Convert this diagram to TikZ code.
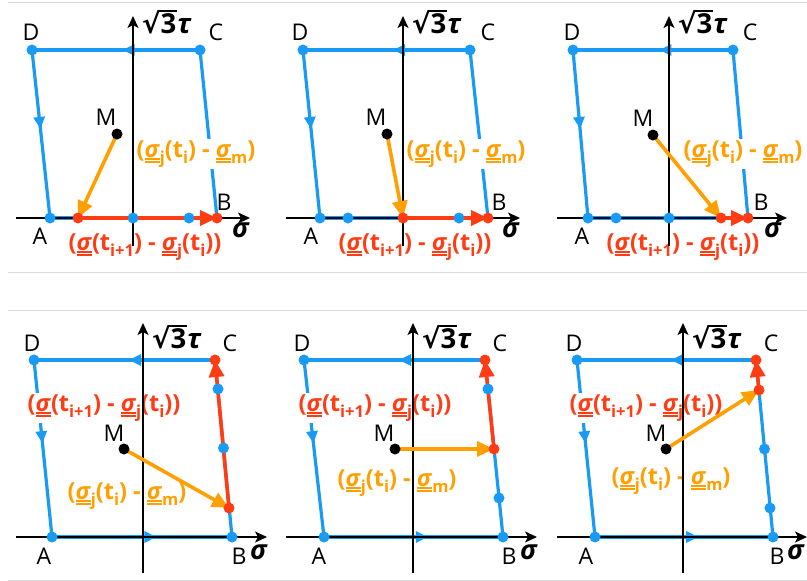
\documentclass[tikz,border=0pt]{standalone}
\usepackage{fontspec}
\setmainfont{Open Sans}
\newfontfamily\djv{DejaVu Sans}
\usetikzlibrary{arrows.meta,decorations.markings}
\definecolor{cblue}{RGB}{25,155,245}
\definecolor{corange}{RGB}{255,160,0}
\definecolor{cred}{RGB}{255,60,20}
\definecolor{cgray}{RGB}{218,218,218}
\newcommand\dulsig{\leavevmode\vtop{\hbox{\textit{σ}}\kern0.9pt\hrule height 1.5pt\kern1.5pt\hrule height 1.5pt}}
\newcommand\lsub[1]{\raisebox{-0.28em}{\fontsize{16.5}{17}\selectfont#1}}
\newcommand\myR{(\dulsig(t\lsub{i+1}) - \dulsig\lsub{j}(t\lsub{i}))}
\newcommand\myO{(\dulsig\lsub{j}(t\lsub{i}) - \dulsig\lsub{m})}
\newcommand\sqtau{\textbf{\setbox0\hbox{{\djv\bfseries √}}\setbox2\hbox{\kern1pt 3\kern1pt}\copy0\kern-0.8pt\rlap{\rule[\dimexpr\ht0-2pt\relax]{\wd2}{2pt}}\box2\textit{τ}}}
\newcommand\sigl{\textbf{\textit{σ}}}
\begin{document}
\begin{tikzpicture}[x=1pt,y=-1pt,
  edge/.style={draw=cblue, line width=3.2pt},
  midarrow/.style={postaction={decorate}, decoration={markings, mark=at position #1 with {\arrow{Triangle[length=12pt,width=11pt]}}}},
  axl/.style={draw=black, line width=1.3pt, -{Stealth[length=12pt,width=11pt,inset=3pt]}},
  dotb/.style={circle, fill=cblue, inner sep=0pt, minimum size=11pt},
  dotr/.style={dotb, fill=cred},
  dotk/.style={dotb, fill=black},
  oarr/.style={draw=corange, line width=3.6pt, -{Triangle[length=17pt,width=15pt]}},
  rarr/.style={draw=cred, line width=3.6pt, -{Triangle[length=17pt,width=15pt]}},
  lbl/.style={inner sep=0pt, font=\fontsize{23}{26}\selectfont},
  slbl/.style={inner sep=0pt, font=\fontsize{27}{30}\selectfont},
  tlbl/.style={inner sep=0pt, anchor=base west, font=\fontsize{27.5}{30}\selectfont},
  olbl/.style={inner sep=1pt, fill=white, text=corange, font=\fontsize{23.5}{26}\selectfont\bfseries},
  rlbl/.style={olbl, text=cred},
  sep/.style={draw=cgray, line width=1pt}]
\useasboundingbox (0,0) rectangle (807,581);
\fill[white] (0,0) rectangle (807,581);
% separators
\coordinate (s1a) at (8,2.5); \coordinate (s1b) at (807,2.5);
\coordinate (s2a) at (8,272.5); \coordinate (s2b) at (807,272.5);
\coordinate (s3a) at (8,310.5); \coordinate (s3b) at (807,310.5);
\coordinate (s4a) at (8,580); \coordinate (s4b) at (807,580);
\draw[sep] (s1a) -- (s1b); \draw[sep] (s2a) -- (s2b);
\draw[sep] (s3a) -- (s3b); \draw[sep] (s4a) -- (s4b);

% ---------------- Panel 1
\begin{scope}[shift={(133,218)}]
\coordinate (p1A) at (-83,0); \coordinate (p1B) at (84,0);
\coordinate (p1C) at (67,-168); \coordinate (p1D) at (-101,-168);
\coordinate (p1M) at (-16,-84); \coordinate (p1P) at (-55,0);
\coordinate (p1Q) at (0,0); \coordinate (p1R) at (56,0);
\coordinate (p1xs) at (-117,0); \coordinate (p1xe) at (117,0);
\coordinate (p1ys) at (0,28); \coordinate (p1ye) at (0,-202);
\draw[edge, midarrow=0.47] (p1D) -- (p1A);
\draw[edge] (p1A) -- (p1B);
\draw[edge, midarrow=0.47] (p1B) -- (p1C);
\draw[edge, midarrow=0.46] (p1C) -- (p1D);
\node[olbl] (p1ot) at (63,-64) {\myO};
\node[rlbl] (p1rt) at (12,29) {\myR};
\draw[axl] (p1xs) -- (p1xe);
\draw[axl] (p1ys) -- (p1ye);
\draw[oarr] (p1M) -- (p1P);
\draw[rarr] (p1P) -- (p1B);
\node[dotb] (p1Ad) at (p1A) {}; \node[dotb] (p1Cd) at (p1C) {};
\node[dotb] (p1Dd) at (p1D) {}; \node[dotb] (p1Qd) at (p1Q) {};
\node[dotb] (p1Rd) at (p1R) {};
\node[dotr] (p1Pd) at (p1P) {}; \node[dotr] (p1Bd) at (p1B) {};
\node[dotk] (p1Md) at (p1M) {};
\node[lbl] (p1Dl) at (-102,-186) {D}; \node[lbl] (p1Cl) at (83,-186) {C};
\node[lbl] (p1Al) at (-93,18) {A}; \node[lbl] (p1Bl) at (91,-16) {B};
\node[lbl] (p1Ml) at (-27,-101) {M};
\node[slbl] (p1sl) at (108,12) {\sigl};
\node[tlbl] (p1tl) at (9,-185) {\sqtau};
\end{scope}

% ---------------- Panel 2
\begin{scope}[shift={(403,218)}]
\coordinate (p2A) at (-83,0); \coordinate (p2B) at (85,0);
\coordinate (p2C) at (67,-168); \coordinate (p2D) at (-100,-168);
\coordinate (p2M) at (-16,-84); \coordinate (p2P) at (0,0);
\coordinate (p2Q) at (-55,0); \coordinate (p2R) at (56,0);
\coordinate (p2xs) at (-117,0); \coordinate (p2xe) at (117,0);
\coordinate (p2ys) at (0,28); \coordinate (p2ye) at (0,-202);
\draw[edge, midarrow=0.47] (p2D) -- (p2A);
\draw[edge] (p2A) -- (p2B);
\draw[edge, midarrow=0.47] (p2B) -- (p2C);
\draw[edge, midarrow=0.46] (p2C) -- (p2D);
\node[olbl] (p2ot) at (63,-64) {\myO};
\node[rlbl] (p2rt) at (12,29) {\myR};
\draw[axl] (p2xs) -- (p2xe);
\draw[axl] (p2ys) -- (p2ye);
\draw[oarr] (p2M) -- (p2P);
\draw[rarr] (p2P) -- (p2B);
\node[dotb] (p2Ad) at (p2A) {}; \node[dotb] (p2Cd) at (p2C) {};
\node[dotb] (p2Dd) at (p2D) {}; \node[dotb] (p2Qd) at (p2Q) {};
\node[dotb] (p2Rd) at (p2R) {};
\node[dotr] (p2Pd) at (p2P) {}; \node[dotr] (p2Bd) at (p2B) {};
\node[dotk] (p2Md) at (p2M) {};
\node[lbl] (p2Dl) at (-103,-186) {D}; \node[lbl] (p2Cl) at (85,-186) {C};
\node[lbl] (p2Al) at (-92,18) {A}; \node[lbl] (p2Bl) at (96,-16) {B};
\node[lbl] (p2Ml) at (-27,-101) {M};
\node[slbl] (p2sl) at (108,12) {\sigl};
\node[tlbl] (p2tl) at (9,-185) {\sqtau};
\end{scope}

% ---------------- Panel 3
\begin{scope}[shift={(669,218)}]
\coordinate (p3A) at (-81,0); \coordinate (p3B) at (79,0);
\coordinate (p3C) at (64,-168); \coordinate (p3D) at (-96,-168);
\coordinate (p3M) at (-16,-83); \coordinate (p3P) at (52,0);
\coordinate (p3Q) at (-53,0); \coordinate (p3R) at (0,0);
\coordinate (p3xs) at (-112,0); \coordinate (p3xe) at (118,0);
\coordinate (p3ys) at (0,28); \coordinate (p3ye) at (0,-202);
\draw[edge, midarrow=0.47] (p3D) -- (p3A);
\draw[edge] (p3A) -- (p3B);
\draw[edge, midarrow=0.47] (p3B) -- (p3C);
\draw[edge, midarrow=0.46] (p3C) -- (p3D);
\node[olbl] (p3ot) at (74,-64) {\myO};
\node[rlbl] (p3rt) at (14,29) {\myR};
\draw[axl] (p3xs) -- (p3xe);
\draw[axl] (p3ys) -- (p3ye);
\draw[oarr] (p3M) -- (p3P);
\draw[rarr] (p3P) -- (p3B);
\node[dotb] (p3Ad) at (p3A) {}; \node[dotb] (p3Cd) at (p3C) {};
\node[dotb] (p3Dd) at (p3D) {}; \node[dotb] (p3Qd) at (p3Q) {};
\node[dotb] (p3Rd) at (p3R) {};
\node[dotr] (p3Pd) at (p3P) {}; \node[dotr] (p3Bd) at (p3B) {};
\node[dotk] (p3Md) at (p3M) {};
\node[lbl] (p3Dl) at (-97,-186) {D}; \node[lbl] (p3Cl) at (81,-186) {C};
\node[lbl] (p3Al) at (-87,18) {A}; \node[lbl] (p3Bl) at (92,-16) {B};
\node[lbl] (p3Ml) at (-26,-100) {M};
\node[slbl] (p3sl) at (104,12) {\sigl};
\node[tlbl] (p3tl) at (9,-185) {\sqtau};
\end{scope}

% ---------------- Panel 4
\begin{scope}[shift={(143,537)}]
\coordinate (p4A) at (-91,0); \coordinate (p4B) at (89,0);
\coordinate (p4C) at (72,-177); \coordinate (p4D) at (-109,-177);
\coordinate (p4M) at (-19,-88); \coordinate (p4P) at (86,-29);
\coordinate (p4Q) at (75,-148); \coordinate (p4R) at (80.5,-89);
\coordinate (p4xs) at (-127,0); \coordinate (p4xe) at (124,0);
\coordinate (p4ys) at (0,36); \coordinate (p4ye) at (0,-214);
\draw[edge, midarrow=0.47] (p4D) -- (p4A);
\draw[edge, midarrow=0.58] (p4A) -- (p4B);
\draw[edge] (p4B) -- (p4C);
\draw[edge, midarrow=0.475] (p4C) -- (p4D);
\node[rlbl] (p4rt) at (-39,-129) {\myR};
\node[olbl] (p4ot) at (-16,-41) {\myO};
\draw[axl] (p4xs) -- (p4xe);
\draw[axl] (p4ys) -- (p4ye);
\draw[oarr] (p4M) -- (p4P);
\draw[rarr] (p4P) -- (p4C);
\node[dotb] (p4Ad) at (p4A) {}; \node[dotb] (p4Bd) at (p4B) {};
\node[dotb] (p4Dd) at (p4D) {}; \node[dotb] (p4Qd) at (p4Q) {};
\node[dotb] (p4Rd) at (p4R) {};
\node[dotr] (p4Pd) at (p4P) {}; \node[dotr] (p4Cd) at (p4C) {};
\node[dotk] (p4Md) at (p4M) {};
\node[lbl] (p4Dl) at (-111,-194) {D}; \node[lbl] (p4Cl) at (87,-194) {C};
\node[lbl] (p4Al) at (-99,19) {A}; \node[lbl] (p4Bl) at (96,19) {B};
\node[lbl] (p4Ml) at (-29,-104) {M};
\node[slbl] (p4sl) at (116,15) {\sigl};
\node[tlbl] (p4tl) at (9,-189) {\sqtau};
\end{scope}

% ---------------- Panel 5
\begin{scope}[shift={(413,537)}]
\coordinate (p5A) at (-89,0); \coordinate (p5B) at (90,0);
\coordinate (p5C) at (72,-177); \coordinate (p5D) at (-109,-177);
\coordinate (p5M) at (-18,-88); \coordinate (p5P) at (81,-88);
\coordinate (p5Q) at (75,-148); \coordinate (p5R) at (86,-39);
\coordinate (p5xs) at (-127,0); \coordinate (p5xe) at (124,0);
\coordinate (p5ys) at (0,36); \coordinate (p5ye) at (0,-214);
\draw[edge, midarrow=0.47] (p5D) -- (p5A);
\draw[edge, midarrow=0.58] (p5A) -- (p5B);
\draw[edge] (p5B) -- (p5C);
\draw[edge, midarrow=0.475] (p5C) -- (p5D);
\node[rlbl] (p5rt) at (-38,-129) {\myR};
\node[olbl] (p5ot) at (-16,-54) {\myO};
\draw[axl] (p5xs) -- (p5xe);
\draw[axl] (p5ys) -- (p5ye);
\draw[oarr] (p5M) -- (p5P);
\draw[rarr] (p5P) -- (p5C);
\node[dotb] (p5Ad) at (p5A) {}; \node[dotb] (p5Bd) at (p5B) {};
\node[dotb] (p5Dd) at (p5D) {}; \node[dotb] (p5Qd) at (p5Q) {};
\node[dotb] (p5Rd) at (p5R) {};
\node[dotr] (p5Pd) at (p5P) {}; \node[dotr] (p5Cd) at (p5C) {};
\node[dotk] (p5Md) at (p5M) {};
\node[lbl] (p5Dl) at (-111,-194) {D}; \node[lbl] (p5Cl) at (87,-194) {C};
\node[lbl] (p5Al) at (-94,19) {A}; \node[lbl] (p5Bl) at (96,19) {B};
\node[lbl] (p5Ml) at (-29,-104) {M};
\node[slbl] (p5sl) at (116,15) {\sigl};
\node[tlbl] (p5tl) at (9,-189) {\sqtau};
\end{scope}

% ---------------- Panel 6
\begin{scope}[shift={(683,537)}]
\coordinate (p6A) at (-88,0); \coordinate (p6B) at (90,0);
\coordinate (p6C) at (73,-177); \coordinate (p6D) at (-106,-177);
\coordinate (p6M) at (-17,-88); \coordinate (p6P) at (76,-147);
\coordinate (p6Q) at (81.5,-88); \coordinate (p6R) at (87,-29);
\coordinate (p6xs) at (-126,0); \coordinate (p6xe) at (124,0);
\coordinate (p6ys) at (0,36); \coordinate (p6ye) at (0,-214);
\draw[edge, midarrow=0.47] (p6D) -- (p6A);
\draw[edge, midarrow=0.58] (p6A) -- (p6B);
\draw[edge] (p6B) -- (p6C);
\draw[edge, midarrow=0.475] (p6C) -- (p6D);
\node[rlbl] (p6rt) at (-37,-129) {\myR};
\node[olbl] (p6ot) at (-12,-56) {\myO};
\draw[axl] (p6xs) -- (p6xe);
\draw[axl] (p6ys) -- (p6ye);
\draw[oarr] (p6M) -- (p6P);
\draw[rarr] (p6P) -- (p6C);
\node[dotb] (p6Ad) at (p6A) {}; \node[dotb] (p6Bd) at (p6B) {};
\node[dotb] (p6Dd) at (p6D) {}; \node[dotb] (p6Qd) at (p6Q) {};
\node[dotb] (p6Rd) at (p6R) {};
\node[dotr] (p6Pd) at (p6P) {}; \node[dotr] (p6Cd) at (p6C) {};
\node[dotk] (p6Md) at (p6M) {};
\node[lbl] (p6Dl) at (-109,-194) {D}; \node[lbl] (p6Cl) at (88,-194) {C};
\node[lbl] (p6Al) at (-97,19) {A}; \node[lbl] (p6Bl) at (94,19) {B};
\node[lbl] (p6Ml) at (-27,-104) {M};
\node[slbl] (p6sl) at (113,15) {\sigl};
\node[tlbl] (p6tl) at (9,-189) {\sqtau};
\end{scope}
\end{tikzpicture}
\end{document}
